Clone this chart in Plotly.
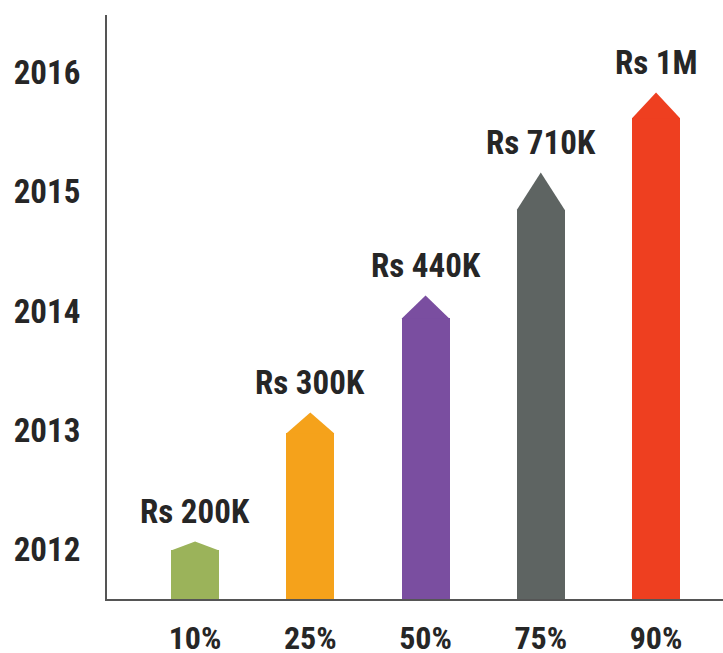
import plotly.graph_objects as go

# ---- data ----
percentiles = ["10%", "25%", "50%", "75%", "90%"]
salary_labels = ["Rs 200K", "Rs 300K", "Rs 440K", "Rs 710K", "Rs 1M"]
arrow_tip_year = [2012.07, 2013.15, 2014.13, 2015.16, 2015.83]
shoulder_year = [2012.00, 2012.98, 2013.94, 2014.85, 2015.62]
year_ticks = [2012, 2013, 2014, 2015, 2016]

# ---- styles ----
colors = ["#9BB35A", "#F5A21B", "#7A4EA0", "#5E6462", "#EE3F20"]
FONT = "Liberation Sans Narrow, Roboto Condensed, DejaVu Sans Condensed, Liberation Sans, Arial"
TXT = "#262626"
y_range = [2011.588, 2016.479]
x_range = [-0.764, 4.581]
bar_w = 0.417

xs = list(range(len(percentiles)))
floor = y_range[0]

fig = go.Figure()
fig.add_trace(go.Bar(
    x=xs,
    y=[s - floor for s in shoulder_year],
    base=floor,
    width=bar_w,
    marker=dict(color=colors, line=dict(width=0)),
    hoverinfo="skip",
    showlegend=False,
))

for i, (s, t, c) in enumerate(zip(shoulder_year, arrow_tip_year, colors)):
    fig.add_trace(go.Scatter(
        x=[i - bar_w / 2, i, i + bar_w / 2, i - bar_w / 2],
        y=[s - 0.005, t, s - 0.005, s - 0.005],
        mode="lines",
        fill="toself",
        fillcolor=c,
        line=dict(width=0, color=c),
        hoverinfo="skip",
        showlegend=False,
    ))

for i, (t, lab) in enumerate(zip(arrow_tip_year, salary_labels)):
    fig.add_annotation(
        x=i, y=t, text=lab, showarrow=False,
        yanchor="middle", xanchor="center", yshift=30,
        font=dict(family=FONT, size=33, color=TXT, weight="bold"),
    )

fig.update_layout(
    width=723, height=653,
    margin=dict(l=107, r=0, t=15, b=54),
    paper_bgcolor="white", plot_bgcolor="white",
    bargap=0,
    xaxis=dict(
        range=x_range, tickmode="array", tickvals=xs, ticktext=percentiles,
        showgrid=False, zeroline=False,
        showline=True, linecolor="#555555", linewidth=2,
        ticks="outside", ticklen=10, tickcolor="rgba(0,0,0,0)",
        tickfont=dict(family=FONT, size=32, color=TXT, weight="bold"),
        automargin=False, fixedrange=True,
    ),
    yaxis=dict(
        range=y_range, tickmode="array", tickvals=year_ticks,
        ticktext=[str(y) for y in year_ticks],
        showgrid=False, zeroline=False,
        showline=True, linecolor="#555555", linewidth=2,
        ticks="outside", ticklen=18, tickcolor="rgba(0,0,0,0)",
        tickfont=dict(family=FONT, size=33, color=TXT, weight="bold"),
        automargin=False, fixedrange=True,
    ),
)

fig.write_html(
    "out.html",
    config={"displayModeBar": False},
    post_script="document.body.style.margin='0';document.body.style.overflow='hidden';",
)
